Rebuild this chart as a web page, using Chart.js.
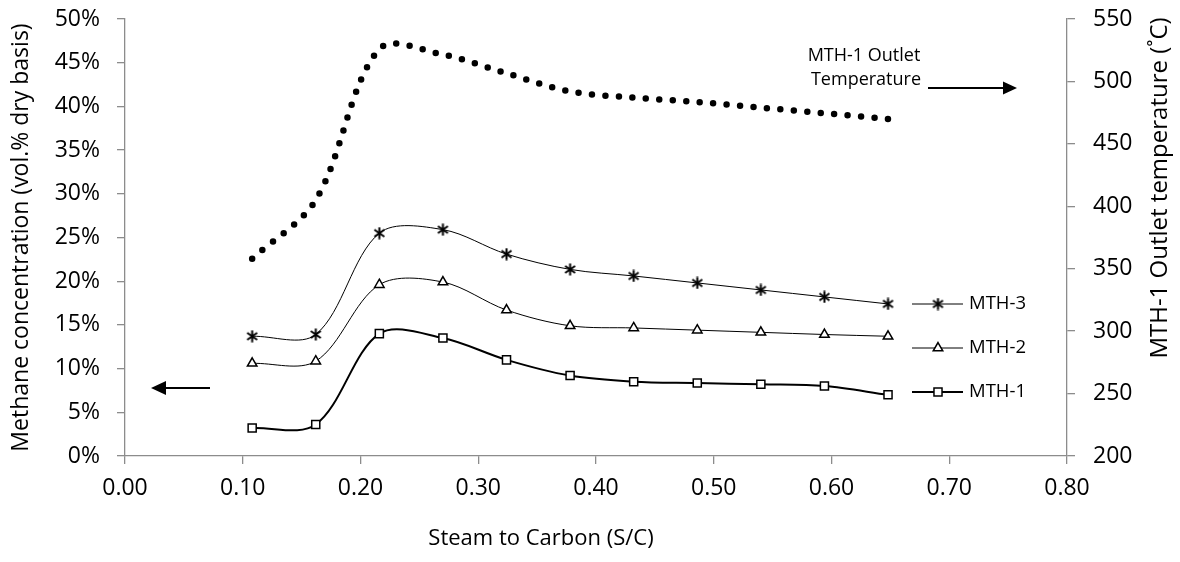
<!DOCTYPE html>
<html>
<head>
<meta charset="utf-8">
<script src="https://cdn.jsdelivr.net/npm/chart.js@4.4.1/dist/chart.umd.min.js"></script>
<style>
  body { margin: 0; background: #fff; }
  #wrap { width: 1180px; height: 562px; }
</style>
</head>
<body>
<div id="wrap"><canvas id="scChart" width="1180" height="562"></canvas></div>
<script>
// data
const steamToCarbon = [0.108, 0.162, 0.216, 0.270, 0.324, 0.378, 0.432, 0.486, 0.540, 0.594, 0.648];
const mth1 = [3.2, 3.6, 14.0, 13.5, 11.0, 9.2, 8.5, 8.35, 8.2, 8.0, 7.0];
const mth2 = [10.6, 10.85, 19.6, 19.9, 16.7, 14.9, 14.65, 14.4, 14.15, 13.9, 13.7];
const mth3 = [13.7, 13.9, 25.5, 25.9, 23.1, 21.35, 20.6, 19.8, 19.0, 18.2, 17.4];
const outletTemp = [358, 405, 526, 521.5, 506.5, 492, 487, 483.5, 479, 474.5, 470];
const seriesNames = ['MTH-3', 'MTH-2', 'MTH-1'];

const FONT = "'Open Sans', sans-serif";
const AXIS = '#8c8c8c';

function toPoints(values) {
    return steamToCarbon.map((x, i) => ({ x: x, y: values[i] }));
}

// asterisk marker (x with a vertical bar)
function makeAsterisk() {
    const c = document.createElement('canvas');
    c.width = 13; c.height = 13;
    const g = c.getContext('2d');
    g.strokeStyle = '#000';
    g.lineWidth = 2;
    g.beginPath();
    g.moveTo(6.5, 0.5); g.lineTo(6.5, 12.5);
    g.moveTo(1.5, 3); g.lineTo(11.5, 10);
    g.moveTo(11.5, 3); g.lineTo(1.5, 10);
    g.stroke();
    return c;
}
const asterisk = makeAsterisk();

function arrow(ctx, x1, y, x2, head, half) {
    const dir = x2 > x1 ? 1 : -1;
    ctx.beginPath();
    ctx.moveTo(x1, y);
    ctx.lineTo(x2 - dir * head, y);
    ctx.stroke();
    ctx.beginPath();
    ctx.moveTo(x2, y);
    ctx.lineTo(x2 - dir * head, y - half);
    ctx.lineTo(x2 - dir * head, y + half);
    ctx.closePath();
    ctx.fill();
}

/* =====================
   Extras: legend, notes, titles
   ===================== */
const extras = {
    id: 'extras',
    afterDraw(chart) {
        const ctx = chart.ctx;
        ctx.save();
        ctx.fillStyle = '#000';
        ctx.strokeStyle = '#000';

        // x axis title
        ctx.font = "22px " + FONT;
        ctx.textAlign = 'center';
        ctx.textBaseline = 'middle';
        ctx.fillText('Steam to Carbon (S/C)', 541, 539);

        // right axis title, reads bottom to top
        ctx.save();
        ctx.translate(1160, 188);
        ctx.rotate(-Math.PI / 2);
        ctx.font = "24px " + FONT;
        ctx.fillText('MTH-1 Outlet temperature (\u02DAC)', 0, 0);
        ctx.restore();

        // note for the temperature curve
        ctx.font = "18px " + FONT;
        ctx.fillText('MTH-1 Outlet', 864, 56);
        ctx.fillText('Temperature', 866, 80);

        ctx.lineWidth = 2;
        arrow(ctx, 928, 88, 1017, 14, 6.5);
        arrow(ctx, 210, 388, 151, 15, 7);

        // legend on the right
        const rows = [304, 348, 392];
        rows.forEach((y, i) => {
            const ds = chart.data.datasets[i + 1];
            ctx.lineWidth = ds.borderWidth;
            ctx.beginPath();
            ctx.moveTo(912, y);
            ctx.lineTo(963, y);
            ctx.stroke();
            ctx.lineWidth = ds.pointBorderWidth;
            ctx.fillStyle = ds.pointBackgroundColor;
            ctx.strokeStyle = '#000';
            Chart.helpers.drawPoint(ctx, {
                pointStyle: ds.pointStyle,
                radius: ds.pointRadius,
                rotation: 0,
                borderWidth: ds.pointBorderWidth
            }, 938, y);
            ctx.fillStyle = '#000';
            ctx.font = "18.5px " + FONT;
            ctx.textAlign = 'left';
            ctx.fillText(seriesNames[i], 969, y);
        });
        ctx.restore();
    }
};

const axisGrid = { display: true, drawOnChartArea: false, drawTicks: true, tickLength: 8, color: AXIS, lineWidth: 1.3 };
const axisBorder = { display: true, color: AXIS, width: 1.3 };

// fixed box sizes so the plot area lands where the original has it
function fitVertical(w) {
    return (scale) => { scale.width = w; scale.paddingTop = 0; scale.paddingBottom = 0; };
}

new Chart(document.getElementById('scChart'), {
    type: 'line',
    data: {
        datasets: [{
            label: 'MTH-1 Outlet Temperature',
            data: toPoints(outletTemp),
            yAxisID: 'y2',
            borderColor: '#000',
            borderWidth: 6.5,
            borderDash: [0, 13.5],
            borderCapStyle: 'round',
            pointRadius: 0,
            tension: 0.33,
            fill: false
        }, {
            label: 'MTH-3',
            data: toPoints(mth3),
            yAxisID: 'y',
            borderColor: '#000',
            borderWidth: 1,
            pointStyle: asterisk,
            pointRadius: 6,
            pointBorderWidth: 2,
            pointBackgroundColor: '#000',
            tension: 0.33,
            fill: false
        }, {
            label: 'MTH-2',
            data: toPoints(mth2),
            yAxisID: 'y',
            borderColor: '#000',
            borderWidth: 1,
            pointStyle: 'triangle',
            pointRadius: 5.5,
            pointBorderWidth: 1.5,
            pointBorderColor: '#000',
            pointBackgroundColor: '#fff',
            tension: 0.33,
            fill: false
        }, {
            label: 'MTH-1',
            data: toPoints(mth1),
            yAxisID: 'y',
            borderColor: '#000',
            borderWidth: 2,
            pointStyle: 'rect',
            pointRadius: 5.7,
            pointBorderWidth: 1.5,
            pointBorderColor: '#000',
            pointBackgroundColor: '#fff',
            tension: 0.33,
            fill: false
        }]
    },
    options: {
        responsive: false,
        animation: false,
        layout: { padding: { top: 19, left: 0, right: 0, bottom: 0 } },
        plugins: {
            legend: { display: false },
            tooltip: { enabled: false }
        },
        scales: {
            x: {
                type: 'linear',
                min: 0,
                max: 0.8,
                afterFit: (scale) => { scale.height = 106; scale.paddingLeft = 0; scale.paddingRight = 0; },
                ticks: {
                    stepSize: 0.1,
                    padding: 11,
                    color: '#000',
                    font: { family: FONT, size: 23 },
                    callback: (v) => v.toFixed(2)
                },
                grid: axisGrid,
                border: axisBorder
            },
            y: {
                position: 'left',
                min: 0,
                max: 50,
                afterFit: fitVertical(125),
                ticks: {
                    stepSize: 5,
                    padding: 17,
                    color: '#000',
                    font: { family: FONT, size: 23 },
                    callback: (v) => v + '%'
                },
                grid: axisGrid,
                border: axisBorder,
                title: {
                    display: true,
                    text: 'Methane concentration (vol.% dry basis)',
                    color: '#000',
                    font: { family: FONT, size: 23 },
                    padding: { top: 8, bottom: 0 }
                }
            },
            y2: {
                position: 'right',
                min: 200,
                max: 550,
                afterFit: fitVertical(113),
                ticks: {
                    stepSize: 50,
                    padding: 18,
                    color: '#000',
                    font: { family: FONT, size: 23 }
                },
                grid: axisGrid,
                border: axisBorder
            }
        }
    },
    plugins: [extras]
});
</script>
</body>
</html>
